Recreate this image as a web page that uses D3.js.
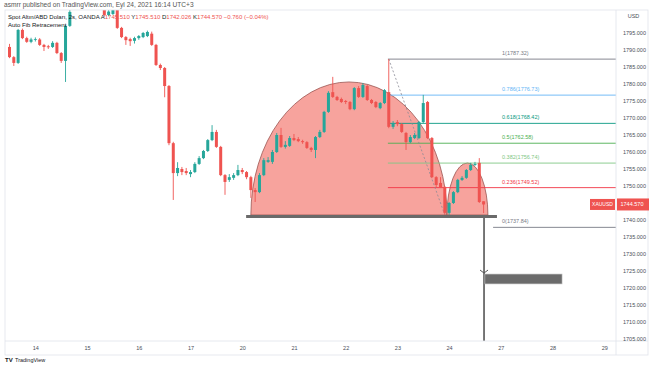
<!DOCTYPE html>
<html><head><meta charset="utf-8">
<script src="https://cdn.jsdelivr.net/npm/d3@7"></script>
<style>
body{margin:0;background:#fff}
svg{display:block;font-family:"Liberation Sans",Arial,sans-serif}
</style>
</head><body>
<svg id="c" width="654" height="366"></svg>
<script>
// ---- data (2h candles, XAUUSD) ----
const opens=[1790.9,1787.9,1786.2,1795.9,1793.5,1792.4,1793.0,1793.1,1791.5,1791.1,
1790.9,1792.1,1789.1,1786.8,1797.1,1806.0,1808.0,1807.0,1806.5,1807.5,
1806.2,1807.0,1806.0,1800.3,1800.6,1801.8,1796.5,1793.8,1793.2,1792.7,
1793.5,1793.8,1794.1,1794.8,1791.5,1785.6,1784.7,1779.4,1762.6,1753.8,
1755.0,1754.4,1753.5,1754.1,1756.5,1758.2,1760.3,1763.5,1765.9,1761.5,
1753.2,1751.8,1752.4,1753.2,1754.7,1754.1,1752.6,1748.8,1748.2,1753.2,
1757.1,1757.1,1760.0,1765.0,1761.5,1761.8,1764.1,1763.8,1763.2,1762.9,
1761.2,1760.6,1764.4,1765.9,1771.8,1777.6,1776.2,1775.6,1775.0,1774.7,
1772.6,1778.8,1776.2,1779.4,1775.3,1774.7,1772.9,1774.4,1777.6,1767.4,
1768.8,1768.2,1765.6,1762.9,1764.1,1764.1,1768.8,1774.7,1764.1,1752.6,
1750.9,1749.7,1742.1,1745.0,1748.2,1751.8,1752.4,1754.7,1756.2,1756.8,1745.51];
const highs=[1791.8,1788.2,1796.2,1796.3,1793.9,1793.6,1793.7,1793.5,1791.8,1791.5,
1792.6,1792.4,1789.4,1797.4,1805.5,1810,1811,1809,1808.5,1809,
1808,1808,1806.5,1802.5,1805,1802.4,1796.8,1794.1,1793.6,1793.9,
1794.4,1795.3,1795.7,1795.4,1791.8,1786.0,1785.0,1779.7,1763.0,1757.0,
1755.6,1755.3,1754.7,1757.0,1758.8,1760.6,1763.8,1767.9,1766.5,1761.8,
1753.5,1753.5,1753.8,1756.2,1755.3,1754.4,1753.0,1749.4,1753.8,1758.2,
1758.5,1760.6,1765.6,1767.1,1763.2,1764.7,1765.3,1764.4,1763.6,1763.2,
1761.5,1764.7,1766.5,1772.1,1777.9,1782.1,1776.5,1776.0,1775.3,1775.0,
1779.1,1779.4,1780.3,1779.7,1775.6,1775.0,1774.7,1778.5,1787.32,1769.1,
1769.4,1768.5,1765.9,1765.0,1765.6,1769.1,1776.8,1775.0,1764.4,1752.9,
1752.6,1750.0,1745.3,1748.5,1752.1,1752.9,1755.0,1756.8,1757.1,1758.2,1745.51];
const lows=[1787.6,1785.3,1785.9,1793.2,1792.1,1792.0,1792.5,1791.2,1789.7,1790.3,
1790.6,1788.8,1786.2,1780.6,1796.8,1805.2,1806,1805.5,1805.3,1806,
1805.2,1805.5,1799.8,1799.9,1800.3,1796.2,1793.5,1791.5,1791.2,1791.9,
1793.0,1793.5,1793.8,1791.2,1785.3,1784.1,1776.1,1762.0,1745.9,1752.9,
1753.2,1753.2,1752.6,1753.8,1756.2,1757.9,1760.0,1763.2,1761.2,1752.9,
1747.4,1751.2,1751.8,1752.9,1753.5,1752.0,1746.5,1745.3,1747.9,1752.9,
1756.8,1756.5,1759.7,1761.2,1761.0,1761.5,1763.2,1762.9,1762.4,1760.9,
1760.0,1758.2,1764.1,1765.6,1771.5,1775.9,1775.0,1774.4,1774.1,1772.3,
1772.3,1775.9,1775.9,1775.0,1774.1,1772.9,1772.6,1774.1,1767.0,1766.8,
1767.6,1765.6,1760.6,1762.6,1763.8,1763.8,1768.5,1763.8,1752.3,1749.7,
1749.4,1741.5,1741.5,1744.7,1747.9,1751.5,1752.1,1754.4,1755.9,1745.0,1742.03];
const closes=[1787.9,1786.2,1795.9,1793.5,1792.4,1793.1,1793.2,1791.5,1790.9,1790.8,
1792.1,1789.1,1786.8,1797.1,1801.2,1808,1807,1806.5,1807.5,1806.2,
1807,1806,1800.3,1801.3,1802.5,1796.5,1793.8,1792.9,1792.6,1793.5,
1794.1,1795.0,1795.3,1791.5,1785.6,1784.7,1779.4,1762.6,1753.8,1755.3,
1754.1,1753.8,1754.1,1756.5,1758.2,1760.3,1763.5,1765.9,1761.5,1753.2,
1751.2,1752.6,1753.2,1754.7,1754.1,1752.6,1748.8,1748.2,1753.2,1757.6,
1757.6,1760.0,1765.0,1761.5,1762.1,1764.1,1763.5,1763.2,1762.9,1761.2,
1760.6,1764.4,1765.9,1771.8,1777.4,1776.2,1775.3,1774.7,1774.7,1772.6,
1778.8,1776.2,1779.7,1775.3,1774.4,1773.2,1774.4,1778.2,1767.4,1768.5,
1768.2,1765.9,1762.9,1764.4,1765.0,1768.8,1774.4,1764.1,1752.6,1750.3,
1749.7,1742.1,1745.0,1748.2,1751.8,1752.4,1754.7,1756.2,1756.5,1745.3,1744.57];

const dayLabels=["14","15","16","17","20","21","22","23","24","27","28","29"];
const dayIndex=[6,18,30,42,54,66,78,90,102,114,126,138];
const priceTicks=[1705,1710,1715,1720,1725,1730,1735,1740,1750,1755,1760,1765,1770,1775,1780,1785,1790,1795];
const fibRatios=[1,0.786,0.618,0.5,0.382,0.236,0];
const fibPrices=[1787.32,1776.73,1768.42,1762.58,1756.74,1749.52,1737.84];
const fibColors=["#787b86","#64b5f6","#089981","#4caf50","#81c784","#f23645","#787b86"];
const lastPrice=1744.570;
// drawings: arcs (index range, base price, top price)
const arcs=[{i0:56,i1:101.5,base:1741.47,top:1780.6},{i0:101.5,i1:111,base:1741.47,top:1756.76}];

// ---- layout ----
const svg=d3.select("#c");
const L=5,R=616,T=10,B=341;
const x=d3.scaleLinear().domain([0,138]).range([9.5,9.5+138*4.31]);
const y=d3.scaleLinear().domain([1705,1795]).range([339,33]);

svg.append("defs").append("clipPath").attr("id","clip")
 .append("rect").attr("x",L).attr("y",T).attr("width",R-L).attr("height",B-T);
const g=svg.append("g").attr("clip-path","url(#clip)");

// arcs (fill under candles)
arcs.forEach(a=>{
  const x0=x(a.i0),x1=x(a.i1),yb=y(a.base),rx=(x1-x0)/2,ry=yb-y(a.top);
  g.append("path").attr("d",`M${x0},${yb} A${rx},${ry} 0 0 1 ${x1},${yb} Z`)
   .attr("fill","#f7a39d").attr("stroke","#9a5552").attr("stroke-width",0.8);
});

// fib lines
fibPrices.forEach((p,k)=>{
  const xs=k===6?x(112.2):x(87.8);
  g.append("line").attr("x1",xs).attr("x2",R).attr("y1",y(p)).attr("y2",y(p))
   .attr("stroke",fibColors[k]).attr("stroke-width",0.9);
  svg.append("text").attr("x",502).attr("y",y(p)-4).attr("font-size",5.5)
   .attr("fill",fibColors[k]).text(`${fibRatios[k]}(${p.toFixed(2)})`);
});
// fib trend line (dashed)
g.append("line").attr("x1",x(88)).attr("y1",y(fibPrices[0])).attr("x2",x(101)).attr("y2",y(1741.5))
 .attr("stroke","#8a8a96").attr("stroke-width",0.8).attr("stroke-dasharray","2,2");

// candles
const idx=d3.range(opens.length);
const up="#26a69a",dn="#ef5350";
const cg=g.append("g");
cg.selectAll("line.w").data(idx).join("line")
 .attr("x1",i=>x(i)).attr("x2",i=>x(i)).attr("y1",i=>y(highs[i])).attr("y2",i=>y(lows[i]))
 .attr("stroke",i=>closes[i]>=opens[i]?up:dn).attr("stroke-width",0.9);
cg.selectAll("rect.b").data(idx).join("rect")
 .attr("x",i=>x(i)-1.5).attr("width",3)
 .attr("y",i=>y(Math.max(opens[i],closes[i])))
 .attr("height",i=>Math.max(0.8,Math.abs(y(opens[i])-y(closes[i]))))
 .attr("fill",i=>closes[i]>=opens[i]?up:dn);

// base bar
g.append("line").attr("x1",x(54.9)).attr("x2",x(113.1)).attr("y1",y(1741.0)).attr("y2",y(1741.0))
 .attr("stroke","#6a6a6a").attr("stroke-width",3);
// vertical projection line with arrow
const vx=x(110.1);
g.append("line").attr("x1",vx).attr("x2",vx).attr("y1",y(1740.6)).attr("y2",B)
 .attr("stroke","#555").attr("stroke-width",1.6);
g.append("path").attr("d",`M${vx-4},${y(1724.4)-3} L${vx},${y(1724.4)} L${vx+4},${y(1724.4)-3}`)
 .attr("fill","none").attr("stroke","#555").attr("stroke-width",1);
// target rectangle
g.append("rect").attr("x",x(110.3)).attr("width",x(128.2)-x(110.3))
 .attr("y",y(1724.1)).attr("height",y(1721.2)-y(1724.1))
 .attr("fill","#6b6b6b").attr("stroke","#bdbdbd").attr("stroke-width",0.6);

// borders
svg.append("rect").attr("x",L).attr("y",T).attr("width",648-L).attr("height",355-T)
 .attr("fill","none").attr("stroke","#e0e3eb").attr("stroke-width",0.8);
svg.append("line").attr("x1",R).attr("x2",R).attr("y1",T).attr("y2",355).attr("stroke","#e0e3eb").attr("stroke-width",0.8);
svg.append("line").attr("x1",L).attr("x2",648).attr("y1",B).attr("y2",B).attr("stroke","#e0e3eb").attr("stroke-width",0.8);

// y axis
const ya=svg.append("g").attr("transform",`translate(${R},0)`)
 .call(d3.axisRight(y).tickValues(priceTicks).tickFormat(d3.format(".3f")).tickSize(0).tickPadding(7));
ya.select(".domain").remove();
ya.selectAll("text").attr("font-size",5.5).attr("fill","#4a4e58").attr("font-family","Liberation Sans, Arial, sans-serif");
svg.append("text").attr("x",633.5).attr("y",18.2).attr("text-anchor","middle").attr("font-size",5.5).attr("fill","#4a4e58").text("USD");

// x axis
const xa=svg.append("g").attr("transform",`translate(0,${B})`)
 .call(d3.axisBottom(x).tickValues(dayIndex).tickFormat((d,k)=>dayLabels[k]).tickSize(0).tickPadding(5));
xa.select(".domain").remove();
xa.selectAll("text").attr("font-size",5.5).attr("fill","#4a4e58").attr("font-family","Liberation Sans, Arial, sans-serif");

// last price labels
const ly=y(lastPrice);
svg.append("rect").attr("x",590).attr("y",ly-5.5).attr("width",25).attr("height",11).attr("fill","#ef5350");
svg.append("text").attr("x",602.5).attr("y",ly+2).attr("text-anchor","middle").attr("font-size",5).attr("fill","#fff").text("XAUUSD");
svg.append("rect").attr("x",617).attr("y",ly-6).attr("width",32).attr("height",12).attr("fill","#ef5350");
svg.append("text").attr("x",620.5).attr("y",ly+2).attr("font-size",5.5).attr("fill","#fff").text(lastPrice.toFixed(3));

// header
svg.append("text").attr("x",4).attr("y",7).attr("font-size",6.6).attr("fill","#555")
 .text("asmrr published on TradingView.com, Eyl 24, 2021 16:14 UTC+3");
const h2=svg.append("text").attr("x",8).attr("y",19).attr("font-size",6).attr("fill","#131722");
h2.append("tspan").text("Spot Altın/ABD Doları, 2s, OANDA  ");
[["A","1745.510"],["Y","1745.510"],["D","1742.026"],["K","1744.570"]].forEach(([k,v])=>{
  h2.append("tspan").attr("fill","#131722").text(" "+k);
  h2.append("tspan").attr("fill","#ef5350").text(v);
});
h2.append("tspan").attr("fill","#ef5350").text(" −0.760 (−0.04%)");
svg.append("text").attr("x",8).attr("y",27).attr("font-size",6).attr("fill","#131722").text("Auto Fib Retracement");

// footer
const f=svg.append("g").attr("transform","translate(5,357)");
f.append("text").attr("x",0).attr("y",5).attr("font-size",6).attr("font-weight","bold").attr("fill","#131722").text("TV");
f.append("text").attr("x",10).attr("y",5).attr("font-size",5.5).attr("fill","#131722").text("TradingView");
</script>
</body></html>
